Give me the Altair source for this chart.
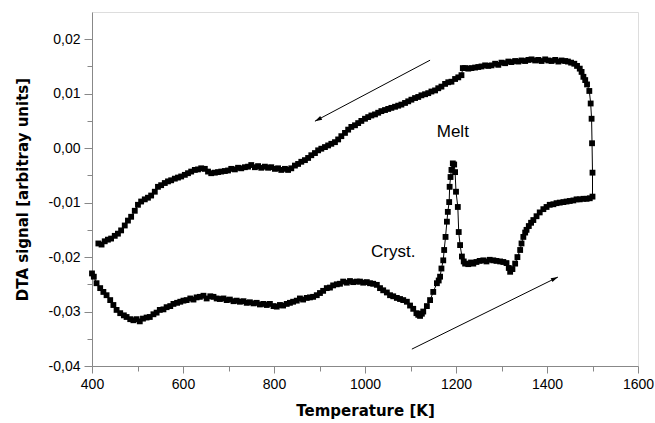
import altair as alt
import pandas as pd

# Heating run (lower curve), temperature [K] and DTA signal
heat_T = [400, 404, 410, 418, 425, 432, 440, 447, 454, 462, 470, 476, 484, 491, 498, 505, 512, 520, 527, 535,
          542, 549, 557, 564, 572, 579, 587, 594, 601, 608, 616, 623, 630, 637, 645, 652, 660, 667, 674, 681,
          689, 696, 703, 711, 718, 725, 733, 740, 747, 755, 762, 769, 777, 784, 791, 799, 806, 813, 820, 828,
          835, 842, 850, 857, 864, 872, 879, 886, 894, 901, 908, 916, 923, 930, 938, 945, 952, 960, 967, 974,
          982, 989, 996, 1004, 1011, 1018, 1026, 1033, 1040, 1048, 1055, 1062, 1070, 1077, 1084, 1092, 1099,
          1106, 1113, 1117, 1121, 1125, 1128, 1136, 1143, 1150, 1158, 1162, 1165, 1168, 1172, 1174, 1177, 1180,
          1182, 1185, 1186, 1188, 1190, 1193, 1196, 1198, 1200, 1204, 1206, 1209, 1213, 1217, 1220, 1227, 1233,
          1238, 1245, 1252, 1260, 1267, 1274, 1282, 1289, 1297, 1304, 1311, 1316, 1319, 1324, 1330, 1335, 1341,
          1344, 1348, 1352, 1355, 1360, 1365, 1370, 1377, 1384, 1392, 1399, 1406, 1414, 1421, 1428, 1436, 1443,
          1450, 1458, 1465, 1472, 1480, 1487, 1494, 1500]
heat_v = [-0.0230, -0.0236, -0.0248, -0.0257, -0.0264, -0.0270, -0.0279, -0.0288, -0.0297, -0.0303, -0.0307,
          -0.0310, -0.0314, -0.0316, -0.0314, -0.0318, -0.0313, -0.0311, -0.0310, -0.0305, -0.0302, -0.0297,
          -0.0296, -0.0292, -0.0290, -0.0286, -0.0284, -0.0282, -0.0280, -0.0279, -0.0276, -0.0278, -0.0274,
          -0.0273, -0.0271, -0.0276, -0.0272, -0.0273, -0.0276, -0.0277, -0.0276, -0.0279, -0.0278, -0.0281,
          -0.0280, -0.0282, -0.0281, -0.0284, -0.0283, -0.0285, -0.0284, -0.0287, -0.0286, -0.0288, -0.0286,
          -0.0290, -0.0291, -0.0288, -0.0289, -0.0286, -0.0284, -0.0282, -0.0280, -0.0276, -0.0278, -0.0275,
          -0.0274, -0.0273, -0.0270, -0.0266, -0.0262, -0.0257, -0.0256, -0.0252, -0.0250, -0.0249, -0.0245,
          -0.0247, -0.0244, -0.0246, -0.0245, -0.0245, -0.0247, -0.0246, -0.0248, -0.0249, -0.0251, -0.0257,
          -0.0261, -0.0265, -0.0270, -0.0272, -0.0275, -0.0277, -0.0279, -0.0282, -0.0289, -0.0295, -0.0303,
          -0.0306, -0.0308, -0.0304, -0.0300, -0.0290, -0.0279, -0.0264, -0.0248, -0.0243, -0.0236, -0.0221,
          -0.0206, -0.0187, -0.0163, -0.0135, -0.0117, -0.0099, -0.0071, -0.0053, -0.0040, -0.0028, -0.0030,
          -0.0044, -0.0080, -0.0108, -0.0154, -0.0178, -0.0199, -0.0208, -0.0212, -0.0213, -0.0210, -0.0212,
          -0.0209, -0.0207, -0.0206, -0.0208, -0.0205, -0.0206, -0.0207, -0.0208, -0.0209, -0.0211, -0.0220,
          -0.0227, -0.0222, -0.0212, -0.0200, -0.0187, -0.0175, -0.0163, -0.0155, -0.0150, -0.0143, -0.0137,
          -0.0132, -0.0125, -0.0118, -0.0112, -0.0108, -0.0104, -0.0103, -0.0101, -0.0100, -0.0099, -0.0098,
          -0.0097, -0.0096, -0.0094, -0.0094, -0.0093, -0.0093, -0.0092, -0.0089]

# Cooling run (upper curve), from 1500 K downward
cool_T = [1500, 1499, 1498, 1496, 1493, 1488, 1484, 1480, 1476, 1472, 1466, 1460, 1453, 1446, 1440, 1432, 1425,
          1418, 1410, 1403, 1396, 1388, 1381, 1374, 1366, 1359, 1352, 1344, 1337, 1330, 1322, 1315, 1308, 1300,
          1293, 1286, 1278, 1271, 1264, 1256, 1249, 1242, 1234, 1227, 1220, 1215, 1212, 1205, 1198, 1190, 1183,
          1176, 1168, 1161, 1154, 1146, 1139, 1132, 1124, 1117, 1110, 1102, 1095, 1088, 1080, 1073, 1066, 1058,
          1051, 1044, 1036, 1029, 1022, 1014, 1007, 1000, 992, 985, 978, 970, 963, 956, 948, 941, 934, 926, 919,
          912, 904, 897, 890, 882, 875, 868, 860, 853, 846, 838, 831, 824, 816, 809, 802, 794, 787, 780, 772,
          765, 758, 750, 743, 736, 728, 721, 714, 706, 699, 692, 684, 677, 670, 662, 655, 648, 640, 633, 626,
          618, 611, 604, 596, 589, 582, 574, 567, 560, 552, 545, 538, 530, 523, 516, 508, 501, 494, 486, 479,
          472, 464, 457, 450, 442, 435, 428, 421, 414]
cool_v = [-0.0045, 0.0009, 0.0054, 0.0082, 0.0105, 0.0117, 0.0125, 0.0131, 0.0140, 0.0146, 0.0151, 0.0155,
          0.0157, 0.0159, 0.0160, 0.0161, 0.0159, 0.0162, 0.0160, 0.0161, 0.0163, 0.0160, 0.0162, 0.0161,
          0.0163, 0.0162, 0.0160, 0.0161, 0.0159, 0.0160, 0.0158, 0.0159, 0.0156, 0.0157, 0.0153, 0.0155,
          0.0152, 0.0151, 0.0152, 0.0150, 0.0149, 0.0148, 0.0147, 0.0146, 0.0147, 0.0147, 0.0134, 0.0130,
          0.0127, 0.0122, 0.0121, 0.0118, 0.0113, 0.0110, 0.0106, 0.0104, 0.0101, 0.0099, 0.0097, 0.0094,
          0.0092, 0.0089, 0.0086, 0.0083, 0.0080, 0.0078, 0.0076, 0.0074, 0.0072, 0.0070, 0.0068, 0.0065,
          0.0062, 0.0060, 0.0057, 0.0054, 0.0050, 0.0046, 0.0042, 0.0039, 0.0034, 0.0028, 0.0022, 0.0016,
          0.0011, 0.0008, 0.0005, 0.0002, -0.0001, -0.0004, -0.0009, -0.0013, -0.0018, -0.0022, -0.0025,
          -0.0029, -0.0032, -0.0037, -0.0040, -0.0038, -0.0040, -0.0037, -0.0038, -0.0035, -0.0036, -0.0034,
          -0.0036, -0.0033, -0.0035, -0.0031, -0.0034, -0.0035, -0.0037, -0.0036, -0.0039, -0.0038, -0.0041,
          -0.0042, -0.0043, -0.0044, -0.0045, -0.0046, -0.0043, -0.0038, -0.0037, -0.0039, -0.0040, -0.0043,
          -0.0046, -0.0049, -0.0052, -0.0054, -0.0056, -0.0059, -0.0061, -0.0064, -0.0068, -0.0071, -0.0080,
          -0.0087, -0.0091, -0.0094, -0.0098, -0.0104, -0.0115, -0.0126, -0.0133, -0.0142, -0.0151, -0.0157,
          -0.0161, -0.0166, -0.0168, -0.0171, -0.0177, -0.0175]

x_major = [400, 600, 800, 1000, 1200, 1400, 1600]
x_minor = [500, 700, 900, 1100, 1300, 1500]
y_major = [-0.04, -0.03, -0.02, -0.01, 0.0, 0.01, 0.02]
y_minor = [-0.035, -0.025, -0.015, -0.005, 0.005, 0.015]

label_text = ["Melt", "Cryst."]
label_T = [1193, 1062]
label_v = [0.0029, -0.0191]

arrow_T1 = [1143, 1103]
arrow_v1 = [0.01615, -0.0369]
arrow_T2 = [890, 1424]
arrow_v2 = [0.00495, -0.02367]
arrow_angle = [242, 64]

T_all = heat_T + cool_T
v_all = heat_v + cool_v
df = pd.DataFrame({"T": T_all, "v": v_all, "i": list(range(len(T_all)))})
labels = pd.DataFrame({"t": label_text, "T": label_T, "v": label_v})
arrows = pd.DataFrame({"T1": arrow_T1, "v1": arrow_v1, "T2": arrow_T2, "v2": arrow_v2, "a": arrow_angle})
minor_df = pd.DataFrame({"T": [400], "v": [0.0]})

xs = alt.Scale(domain=[400, 1600], nice=False, zero=False)
ys = alt.Scale(domain=[-0.04, 0.025], nice=False, zero=False)

ylabel = "replace((datum.value < -0.0001 ? '-' : '') + format(abs(datum.value), '.2f'), '.', ',')"

line = alt.Chart(df).mark_line(color="black", strokeWidth=1).encode(
    x=alt.X("T:Q", scale=xs, axis=alt.Axis(values=x_major, title="Temperature [K]", orient="bottom",
                                           format="d",
                                           grid=False, tickSize=7, labelPadding=4, titlePadding=12,
                                           labelFont="Liberation Sans", labelFontSize=14,
                                           titleFont="DejaVu Sans", titleFontWeight="bold",
                                           titleFontSize=15, labelFlush=False)),
    y=alt.Y("v:Q", scale=ys, axis=alt.Axis(values=y_major, title="DTA signal [arbitray units]", orient="left",
                                           grid=False, tickSize=8, labelPadding=4, titlePadding=18,
                                           labelExpr=ylabel,
                                           labelFont="Liberation Sans", labelFontSize=14,
                                           titleFont="DejaVu Sans", titleFontWeight="bold",
                                           titleFontSize=15, labelFlush=False)),
    order="i:Q",
)

pts = alt.Chart(df).mark_point(shape="square", filled=True, color="black", size=34, opacity=1).encode(
    x=alt.X("T:Q", scale=xs, axis=None),
    y=alt.Y("v:Q", scale=ys, axis=None),
)

minor = alt.Chart(minor_df).mark_point(opacity=0).encode(
    x=alt.X("T:Q", scale=xs, axis=alt.Axis(values=x_minor, orient="bottom", labels=False, domain=False,
                                           grid=False, tickSize=5, title=None)),
    y=alt.Y("v:Q", scale=ys, axis=alt.Axis(values=y_minor, orient="left", labels=False, domain=False,
                                           grid=False, tickSize=5, title=None)),
)

txt = alt.Chart(labels).mark_text(font="Liberation Sans", fontSize=17, color="black").encode(
    x=alt.X("T:Q", scale=xs, axis=None),
    y=alt.Y("v:Q", scale=ys, axis=None),
    text="t:N",
)

arr = alt.Chart(arrows).mark_rule(color="black", strokeWidth=1).encode(
    x=alt.X("T1:Q", scale=xs, axis=None),
    y=alt.Y("v1:Q", scale=ys, axis=None),
    x2="T2:Q",
    y2="v2:Q",
)

heads = alt.Chart(arrows).mark_point(shape="M0,0 L-0.3,1 L0.3,1 Z", filled=True, color="black",
                                     size=200, opacity=1).encode(
    x=alt.X("T2:Q", scale=xs, axis=None),
    y=alt.Y("v2:Q", scale=ys, axis=None),
    angle=alt.Angle("a:Q", scale=None),
)

chart = alt.layer(line, pts, minor, txt, arr, heads).resolve_axis(
    x="independent", y="independent"
).properties(
    width=546, height=354,
    autosize=alt.AutoSizeParams(type="none"),
    padding={"left": 92, "top": 12, "right": 17, "bottom": 57},
).configure_view(
    stroke="black", strokeWidth=1.5
).configure_axis(
    domainColor="black", domainWidth=1.5, tickColor="black", tickWidth=1.5,
    labelColor="black", titleColor="black"
).configure(background="white")

chart.save("out.html", embed_options={"renderer": "svg", "actions": False})
